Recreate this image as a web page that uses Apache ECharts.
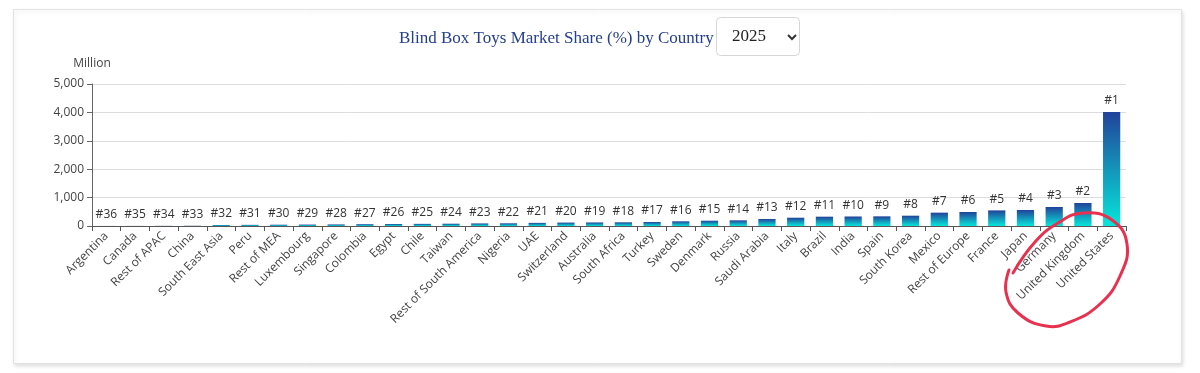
<!DOCTYPE html>
<html>
<head>
<meta charset="utf-8">
<script src="https://cdn.jsdelivr.net/npm/echarts@6/dist/echarts.min.js"></script>
<style>
html,body{margin:0;padding:0;background:#fff;}
#chart{width:1200px;height:373px;}
</style>
</head>
<body>
<div id="chart"></div>
<script>
const titleText = 'Blind Box Toys Market Share (%) by Country';
const selectedYear = '2025';
const unitName = 'Million';
const categories = ['Argentina','Canada','Rest of APAC','China','South East Asia','Peru','Rest of MEA','Luxembourg','Singapore','Colombia','Egypt','Chile','Taiwan','Rest of South America','Nigeria','UAE','Switzerland','Australia','South Africa','Turkey','Sweden','Denmark','Russia','Saudi Arabia','Italy','Brazil','India','Spain','South Korea','Mexico','Rest of Europe','France','Japan','Germany','United Kingdom','United States'];
const values = [2,3,5,8,35,40,45,50,55,65,70,75,80,90,95,110,120,125,130,141,165,187,200,246,292,328,335,340,363,470,493,550,563,670,810,4014];
const ranks = [36,35,34,33,32,31,30,29,28,27,26,25,24,23,22,21,20,19,18,17,16,15,14,13,12,11,10,9,8,7,6,5,4,3,2,1];
const yTicks = [0,1000,2000,3000,4000,5000];

const chart = echarts.init(document.getElementById('chart'), null, {renderer:'canvas'});
const labelFont = "'Open Sans', 'Noto Sans', sans-serif";

const option = {
  animation: false,
  graphic: [
    {type:'rect', z:0, shape:{x:13.5,y:9.5,width:1168,height:354},
     style:{fill:'#fff', stroke:'#e2e2e2', lineWidth:1, shadowBlur:4, shadowColor:'rgba(0,0,0,0.12)', shadowOffsetY:2, shadowOffsetX:1}},
    {type:'rect', z:5, shape:{x:716.5,y:17.5,width:83,height:38,r:4},
     style:{fill:'#fff', stroke:'#d6d6d6', lineWidth:1}},
    {type:'text', z:6, left:732, top:28,
     style:{text:selectedYear, font:"17px 'Liberation Serif', serif", fill:'#222'}},
    {type:'polyline', z:6, shape:{points:[[788,35],[792,39],[796,35]]},
     style:{stroke:'#333', lineWidth:2, fill:null}},
    {type:'polyline', z:20, shape:{smooth:0.45, points:[[1013,273],[1035,242],[1058,223],[1083,213],[1112,220],[1127,244],[1120,276],[1100,304],[1070,322],[1046,326],[1018,313],[1006,292],[1009,270]]},
     style:{stroke:'#e8304f', lineWidth:3, fill:null, lineCap:'round', lineJoin:'round'}}
  ],
  title: {
    text: titleText,
    left: 394, top: 25,
    textStyle: {fontFamily:"'Liberation Serif', serif", fontSize:17, fontWeight:'normal', color:'#243f8c'}
  },
  grid: {left:92, right:74, top:84, bottom:147, containLabel:false},
  xAxis: {
    type:'category', data:categories,
    axisLine:{show:true, lineStyle:{color:'#555'}},
    axisTick:{show:true, alignWithLabel:false, lineStyle:{color:'#555'}},
    axisLabel:{interval:0, rotate:45, color:'#444', fontSize:12, fontFamily:labelFont, margin:8}
  },
  yAxis: {
    type:'value', min:0, max:5000, interval:1000,
    name: unitName, nameLocation:'end', nameGap:14,
    nameTextStyle:{color:'#444', fontSize:12, fontFamily:labelFont, align:'center'},
    axisLine:{show:true, lineStyle:{color:'#666'}},
    axisTick:{show:true, lineStyle:{color:'#666'}},
    axisLabel:{color:'#444', fontSize:12, fontFamily:labelFont,
      formatter: v => yTicks.includes(v) ? v.toLocaleString('en-US') : ''},
    splitLine:{lineStyle:{color:'#ddd'}}
  },
  series: [{
    type:'bar', z:10,
    data: values,
    barWidth:'60%',
    itemStyle:{color:new echarts.graphic.LinearGradient(0,0,0,1,[{offset:0,color:'#22429a'},{offset:1,color:'#06e6da'}])},
    label:{show:true, position:'top', distance:5, color:'#333', fontSize:12, fontFamily:labelFont,
      formatter: p => '#' + ranks[p.dataIndex]}
  }]
};
chart.setOption(option);
</script>
</body>
</html>
